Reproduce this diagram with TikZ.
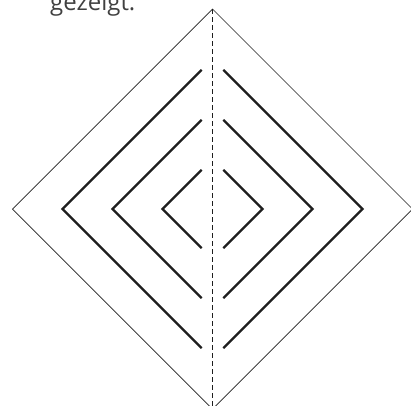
\documentclass[tikz,border=0pt]{standalone}
\usepackage{fontspec}
\setmainfont{Open Sans}
\usetikzlibrary{calc}
\definecolor{SketchInk}{RGB}{30, 30, 30}
\definecolor{SketchText}{RGB}{64, 64, 64}

\begin{document}
\begin{tikzpicture}[x=1pt, y=-1pt,
    outline/.style={draw=SketchInk, line width=0.7pt},
    foldline/.style={draw=SketchInk, line width=0.7pt, dash pattern=on 5pt off 3pt},
    cutline/.style={draw=SketchInk, line width=2.2pt}]
    \useasboundingbox (0,0) rectangle (411,405);
    % centre of the folded square
    \coordinate (mid) at (212.5,209);
    \coordinate (top) at ($(mid)+(0,-200)$);
    \coordinate (left) at ($(mid)+(-200,0)$);
    \coordinate (right) at ($(mid)+(200,0)$);
    \coordinate (bottom) at ($(mid)+(0,200)$);
    \node[anchor=base west, inner sep=0pt, text=SketchText,
          font=\fontsize{24}{28}\selectfont] (caption) at (50,10) {gezeigt.};
    % paper outline and fold
    \draw[outline] (top) -- (right) -- (bottom) -- (left) -- cycle;
    \draw[foldline] (top) -- (bottom);
    % cuts
    \foreach \r in {50,100,150} {
      \draw[cutline] ($(mid)+(-10.8,-\r+10.8)$) -- ($(mid)+(-\r,0)$) -- ($(mid)+(-10.8,\r-10.8)$);
      \draw[cutline] ($(mid)+(10.8,-\r+10.8)$) -- ($(mid)+(\r,0)$) -- ($(mid)+(10.8,\r-10.8)$);
    }
\end{tikzpicture}
\end{document}
